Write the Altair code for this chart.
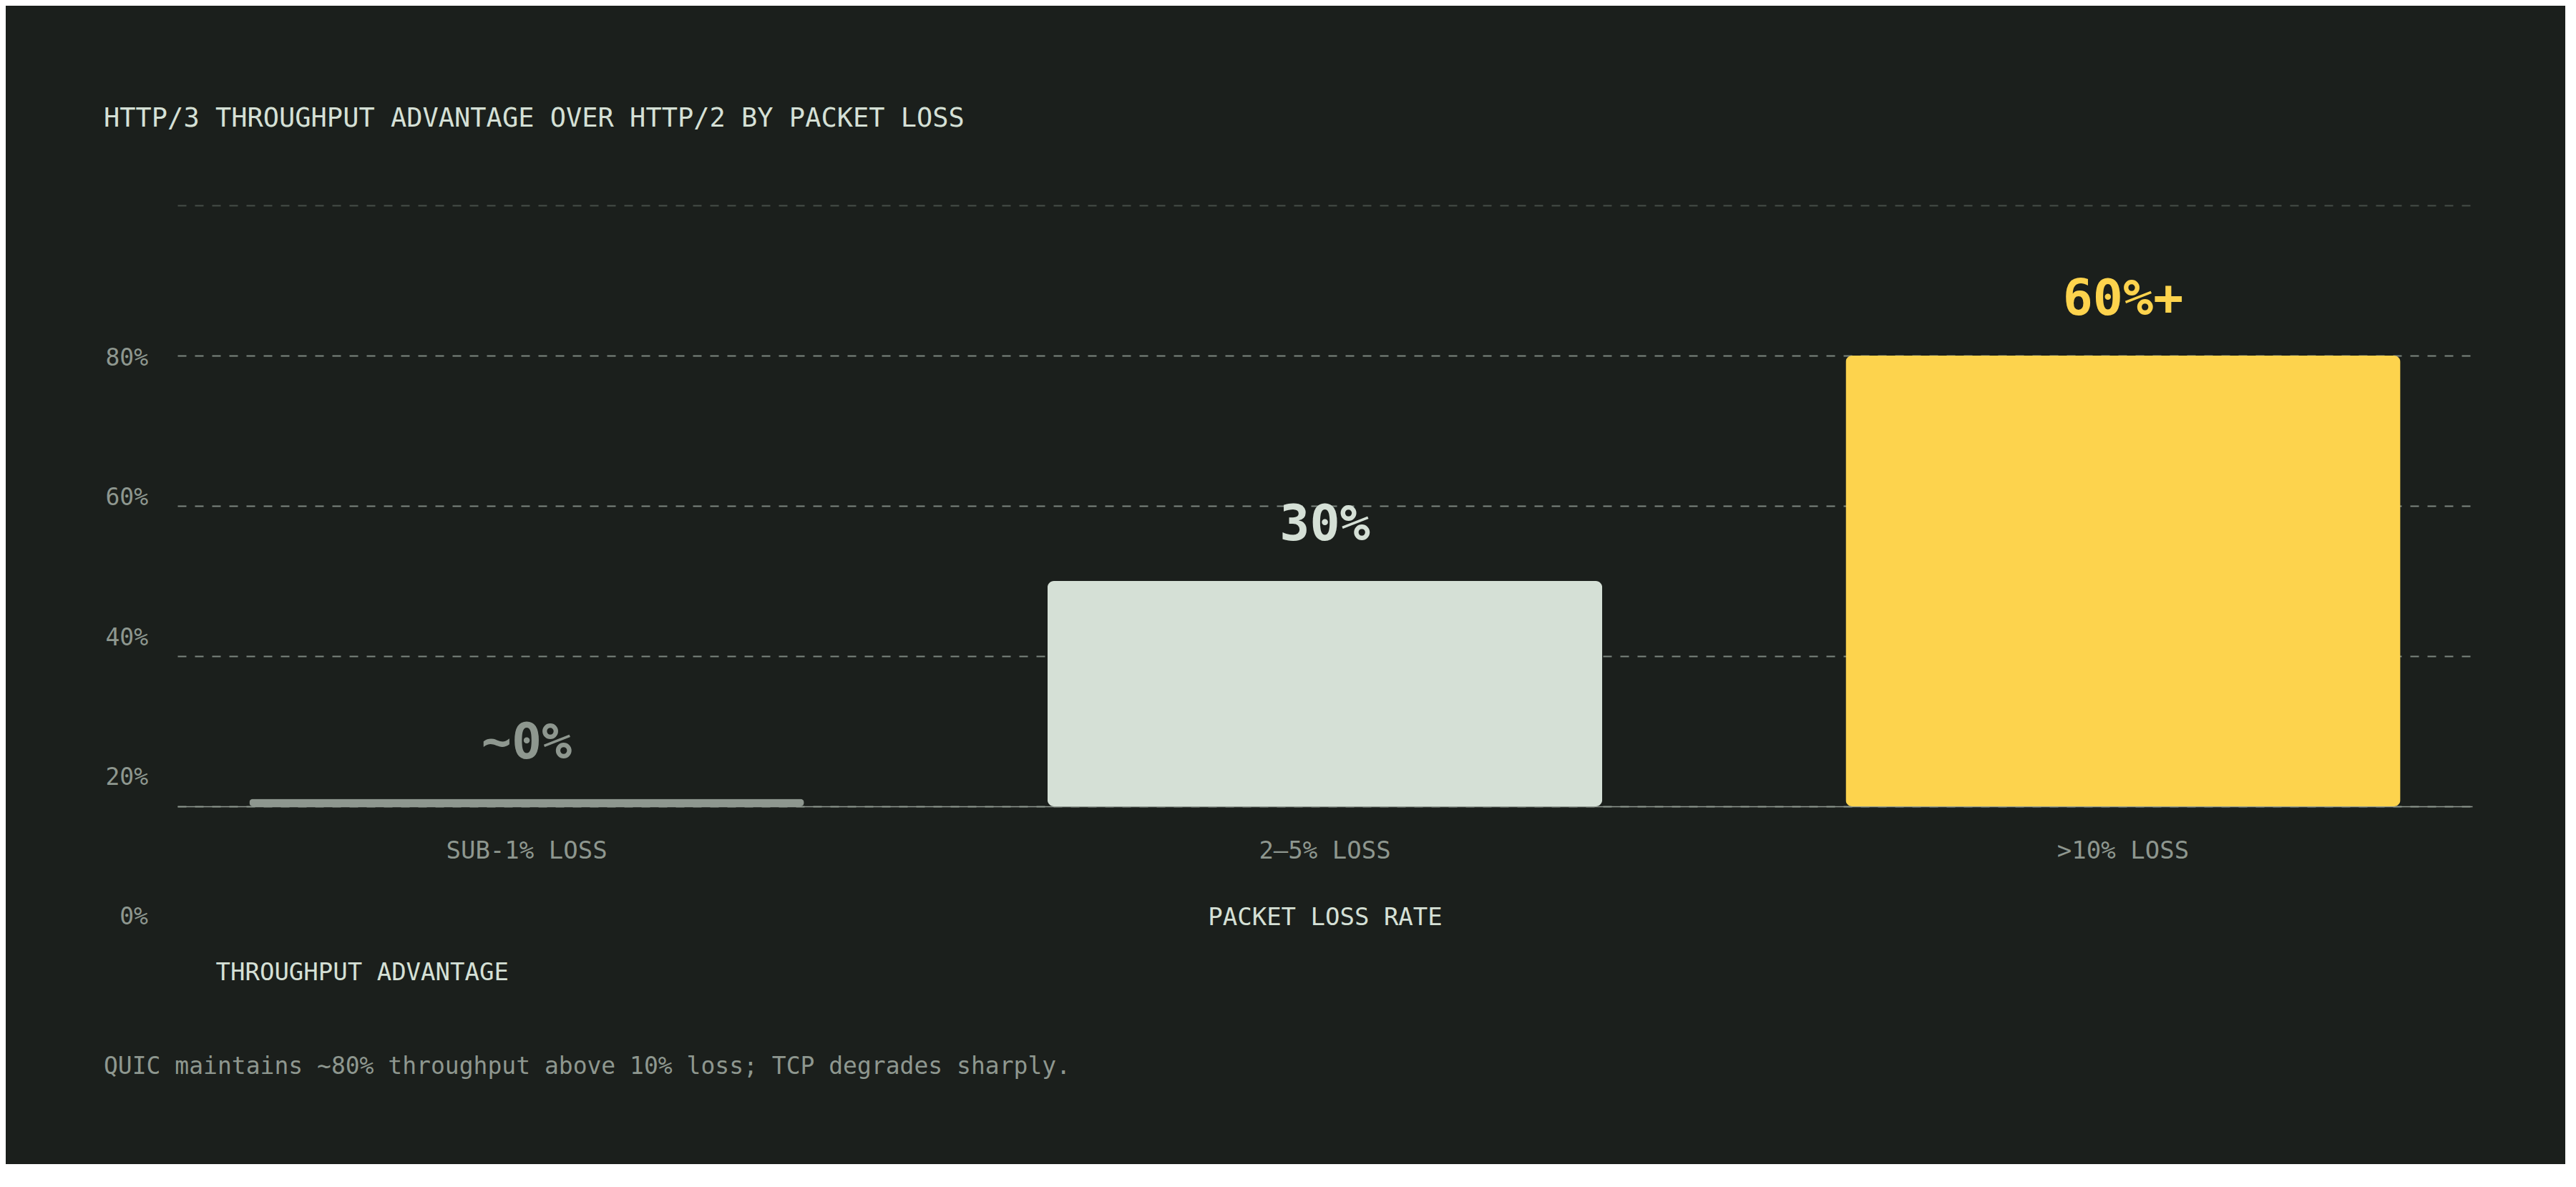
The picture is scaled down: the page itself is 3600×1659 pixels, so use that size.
import altair as alt
import pandas as pd

# ---- data -------------------------------------------------------------
categories = ["SUB-1% LOSS", "2–5% LOSS", ">10% LOSS"]
advantage = [1, 30, 60]
value_labels = ["~0%", "30%", "60%+"]
bar_colors = ["#8e978f", "#d5e0d6", "#fdd34d"]

y_tick_values = [80, 60, 40, 20, 0]
y_tick_labels = ["80%", "60%", "40%", "20%", "0%"]
grid_values = [0, 20, 40, 60, 80]

title_text = "HTTP/3 THROUGHPUT ADVANTAGE OVER HTTP/2 BY PACKET LOSS"
x_title = "PACKET LOSS RATE"
y_title = "THROUGHPUT ADVANTAGE"
caption = "QUIC maintains ~80% throughput above 10% loss; TCP degrades sharply."

# ---- style ------------------------------------------------------------
MONO = "DejaVu Sans Mono"
BG = "#1b1f1c"
LIGHT = "#d5e0d6"
MUTED = "#8e978f"
GRID = "#7d867f"

bars_df = pd.DataFrame({"category": categories, "advantage": advantage, "label": value_labels})
ylab_df = pd.DataFrame({"v": y_tick_values, "t": y_tick_labels})
cap_df = pd.DataFrame({"t": [caption]})

x_scale = alt.Scale(paddingInner=0.305, paddingOuter=0.09)
y_scale = alt.Scale(domain=[0, 80], nice=False, zero=True)
color_enc = alt.Color("category:N", sort=categories,
                      scale=alt.Scale(domain=categories, range=bar_colors), legend=None)

x_axis = alt.Axis(
    title=x_title, labelAngle=0, ticks=False, domain=True, domainColor=MUTED, domainWidth=1.5,
    labelColor=MUTED, labelFont=MONO, labelFontSize=34, labelPadding=45, labelBaseline="top",
    labelLimit=2000,
    titleColor=LIGHT, titleFont=MONO, titleFontSize=34, titleFontWeight="normal",
    titleBaseline="middle", titleY=155, grid=False,
)
y_axis = alt.Axis(
    values=grid_values, grid=True, gridDash=[12, 12], gridColor=GRID, gridWidth=2,
    gridOpacity={"condition": {"test": "datum.value === 80", "value": 0.45}, "value": 1},
    labels=False, ticks=False, domain=False,
    title=y_title, titleAngle=0, titleX=53, titleY=1072, titleAlign="left",
    titleBaseline="middle", titleColor=LIGHT, titleFont=MONO, titleFontSize=34,
    titleFontWeight="normal", titleLimit=2000,
)

bars = alt.Chart(bars_df).mark_bar(cornerRadius=9).encode(
    x=alt.X("category:N", sort=categories, scale=x_scale, axis=x_axis),
    y=alt.Y("advantage:Q", scale=y_scale, axis=y_axis),
    color=color_enc,
)

value_text = alt.Chart(bars_df).mark_text(
    font=MONO, fontWeight="bold", fontSize=70, baseline="alphabetic", dy=-57
).encode(
    x=alt.X("category:N", sort=categories),
    y=alt.Y("advantage:Q", scale=y_scale, axis=None),
    text="label:N",
    color=color_enc,
)

ylabels = alt.Chart(ylab_df).mark_text(
    font=MONO, fontSize=33, align="right", baseline="middle", color=MUTED
).encode(
    x=alt.value(-41),
    y=alt.Y("v:Q", scale=alt.Scale(domain=[15.9, 101.87], nice=False, zero=False), axis=None),
    text="t:N",
)

cap = alt.Chart(cap_df).mark_text(
    font=MONO, fontSize=33, align="left", baseline="middle", color=MUTED
).encode(
    x=alt.value(-103),
    y=alt.value(1204),
    text="t:N",
)

chart = (
    alt.layer(bars, value_text, ylabels, cap)
    .resolve_scale(y="independent")
    .properties(
        width=3207,
        height=840,
        title=alt.TitleParams(
            text=title_text, anchor="start", frame="group", dx=-103, offset=102,
            font=MONO, fontSize=37, fontWeight="normal", color=LIGHT, limit=3000,
        ),
        autosize=alt.AutoSizeParams(type="none"),
        padding={"left": 240, "top": 279, "right": 130, "bottom": 500},
    )
    .configure(background=BG)
    .configure_view(stroke=None)
)

chart.save("out.html", embed_options={"renderer": "svg", "actions": False})
